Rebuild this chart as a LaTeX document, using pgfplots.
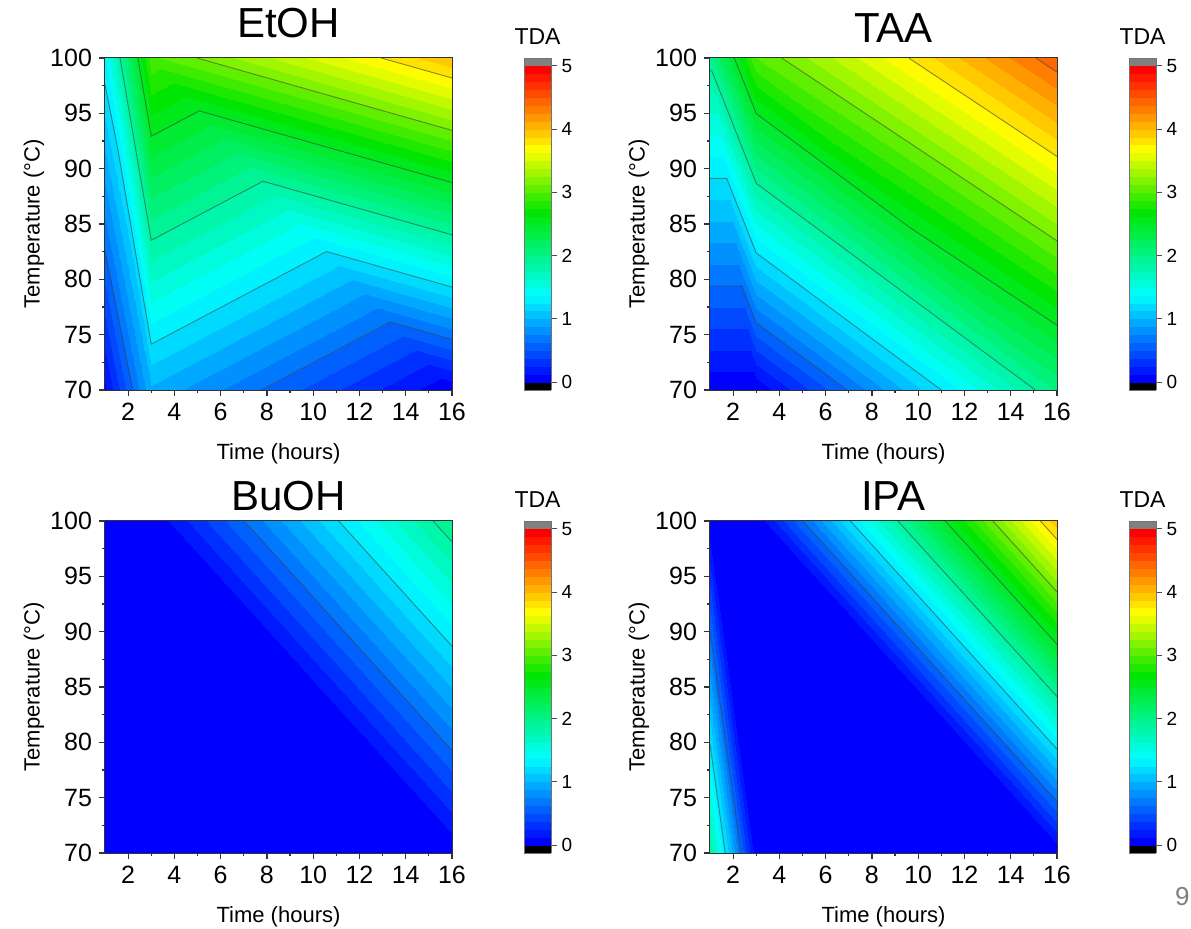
\documentclass[border=0pt]{standalone}
\usepackage{fontspec}
\setmainfont{Liberation Sans}
\usepackage{pgfplots}
\usepackage{pgfplotstable}
\pgfplotsset{compat=1.18}

% triangulated data: each three rows form one triangle (x = time, y = temperature, z = TDA)
\pgfplotstableread{
x y z
1 70 0.10
1 100 1.35
3 70 0.975
1 100 1.35
3 100 2.97
3 70 0.975
3 70 0.975
3 100 2.97
16 70 0.02
3 100 2.97
16 100 3.99
16 70 0.02
}\etoh
\pgfplotstableread{
x y z
1 70 0.02
1 100 1.95
3 70 0.02
1 100 1.95
3 100 3.00
3 70 0.02
3 70 0.02
3 100 3.00
16 70 2.02
3 100 3.00
16 100 4.48
16 70 2.02
}\taa
\pgfplotstableread{
x y z
1 70 0.01
1 100 0.01
3 70 0.01
1 100 0.01
3 100 0.01
3 70 0.01
3 70 0.01
3 100 0.01
16 70 0.01
3 100 0.01
16 100 2.00
16 70 0.01
}\buoh
\pgfplotstableread{
x y z
1 70 1.855
1 100 0.01
3 70 0.01
1 100 0.01
3 100 0.01
3 70 0.01
3 70 0.01
3 100 0.01
16 70 0.01
3 100 0.01
16 100 3.97
16 70 0.01
}\ipa

\pgfplotsset{
 colormap={tda}{
  rgb255=(0,0,0)
  rgb255=(0,0,255) rgb255=(0,24,255) rgb255=(0,48,255) rgb255=(0,73,255)
  rgb255=(0,97,255) rgb255=(0,121,255) rgb255=(0,145,255) rgb255=(0,169,255)
  rgb255=(0,194,255) rgb255=(0,218,255) rgb255=(0,242,255) rgb255=(0,254,244)
  rgb255=(0,252,220) rgb255=(0,249,195) rgb255=(0,247,171) rgb255=(0,244,147)
  rgb255=(0,242,123) rgb255=(0,240,98) rgb255=(0,237,74) rgb255=(0,235,50)
  rgb255=(0,233,26) rgb255=(0,230,2) rgb255=(31,233,0) rgb255=(63,236,0)
  rgb255=(96,239,0) rgb255=(129,243,0) rgb255=(161,246,0) rgb255=(194,249,0)
  rgb255=(227,252,0) rgb255=(255,251,0) rgb255=(255,226,0) rgb255=(255,201,0)
  rgb255=(255,176,0) rgb255=(255,151,0) rgb255=(255,126,0) rgb255=(255,101,0)
  rgb255=(255,75,0) rgb255=(255,50,0) rgb255=(255,25,0) rgb255=(255,0,0)
  rgb255=(128,128,128)
 },
 cline/.style={draw=black!75, line width=0.45pt, opacity=0.6, no marks, forget plot},
 panel/.style={
  scale only axis, width=173.5pt, height=166pt,
  anchor=south west,
  xmin=1, xmax=16, ymin=70, ymax=100,
  xtick={2,4,...,16}, minor xtick={3,5,...,15},
  ytick={70,75,...,100}, minor ytick={72.5,77.5,...,97.5},
  tick align=outside, xtick pos=left, ytick pos=left,
  major tick length=3pt, minor tick length=1.6pt,
  every tick/.style={line width=0.6pt, black!80},
  axis line style={line width=0.75pt, black!80},
  ticklabel style={font=\fontsize{12.5}{13}\selectfont},
  /pgf/number format/assume math mode=true,
  xlabel={Time (hours)}, ylabel={Temperature (°C)},
  label style={font=\fontsize{11}{12}\selectfont},
  xlabel style={at={(axis description cs:0.5,0)}, anchor=base, yshift=-35pt},
  ylabel style={at={(axis description cs:0,0.5)}, anchor=center, rotate=0, yshift=35.5pt},
  every axis title shift=0pt,
  title style={font=\fontsize{21}{24}\selectfont, at={(axis description cs:0.5,1)}, anchor=base, xshift=5pt},
  colormap name=tda, colormap access=piecewise constant,
  point meta min=-0.125, point meta max=5.125,
  colorbar,
  colorbar style={
   at={(parent axis.north east)}, anchor=north west, xshift=27.5pt,
   width=13.5pt,
   colormap access=piecewise constant,
   ytick={0,1,2,3,4,5}, minor ytick={},
   tick align=outside, ytick pos=right, yticklabel pos=right,
   major tick length=2.8pt,
   every tick/.style={line width=0.5pt, black!70},
   axis line style={line width=0.4pt, black!55},
   yticklabel style={font=\fontsize{9.5}{10}\selectfont, xshift=-1pt},
   /pgf/number format/assume math mode=true,
   every axis title shift=0pt,
   title={TDA},
   title style={font=\fontsize{11.5}{12}\selectfont, at={(0.5,1)}, anchor=base, yshift=6.5pt},
  },
 },
 tri/.style={patch, patch type=triangle, shader=interp, point meta=\thisrow{z}},
}

\begin{document}
\begin{tikzpicture}
\path[use as bounding box] (0,0) rectangle (595.5pt,-464.5pt);

% ---------- EtOH ----------
\begin{axis}[panel, at={(52.5pt,-195pt)}, title={EtOH}, title style={yshift=10pt}]
\addplot[tri] table {\etoh};
\addplot[cline] coordinates {(1,82.6) (2.2,70)};
\addplot[cline] coordinates {(7.76,70) (13.33,76.15) (16,74.57)};
\addplot[cline] coordinates {(1,97.6) (1.533,92.0) (3,74.14) (10.58,82.51) (16,79.30)};
\addplot[cline] coordinates {(1.648,100) (3,83.53) (7.83,88.86) (16,84.02)};
\addplot[cline] coordinates {(2.42,100) (3,92.93) (5.07,95.22) (16,88.74)};
\addplot[cline] coordinates {(4.98,100) (16,93.46)};
\addplot[cline] coordinates {(12.94,100) (16,98.19)};
\end{axis}

% ---------- TAA ----------
\begin{axis}[panel, at={(355pt,-195pt)}, title={TAA}, title style={yshift=7.5pt}]
\addplot[tri] table {\taa};
\addplot[cline] coordinates {(1,79.40) (2.373,79.40) (3,76.09) (6.93,70)};
\addplot[cline] coordinates {(1,89.12) (1.725,89.12) (3,82.38) (11.0,70)};
\addplot[cline] coordinates {(1,98.83) (1.078,98.83) (3,88.67) (15.06,70)};
\addplot[cline] coordinates {(2.048,100) (3,94.97) (9.63,84.69) (16,75.85)};
\addplot[cline] coordinates {(4.10,100) (16,83.48)};
\addplot[cline] coordinates {(9.59,100) (16,91.10)};
\addplot[cline] coordinates {(15.08,100) (16,98.72)};
\end{axis}

% ---------- BuOH ----------
\begin{axis}[panel, at={(52.5pt,-426.5pt)}, title={BuOH}, title style={yshift=5.25pt}]
\addplot[tri] table {\buoh};
\addplot[cline] coordinates {(7.02,100) (16,79.27)};
\addplot[cline] coordinates {(11.10,100) (16,88.69)};
\addplot[cline] coordinates {(15.18,100) (16,98.12)};
\end{axis}

% ---------- IPA ----------
\begin{axis}[panel, at={(355pt,-426.5pt)}, title={IPA}, title style={yshift=5.25pt}]
\addplot[tri] table {\ipa};
\addplot[cline] coordinates {(1,90.0) (2.333,70)};
\addplot[cline] coordinates {(1,79.84) (1.656,70)};
\addplot[cline] coordinates {(5.02,100) (16,74.66)};
\addplot[cline] coordinates {(7.07,100) (16,79.39)};
\addplot[cline] coordinates {(9.12,100) (16,84.13)};
\addplot[cline] coordinates {(11.17,100) (16,88.86)};
\addplot[cline] coordinates {(13.23,100) (16,93.60)};
\addplot[cline] coordinates {(15.28,100) (16,98.33)};
\end{axis}

\node[gray, font=\fontsize{13}{14}\selectfont, anchor=base east, inner sep=0.5pt] at (595.5pt,-453pt) {9};
\end{tikzpicture}
\end{document}
